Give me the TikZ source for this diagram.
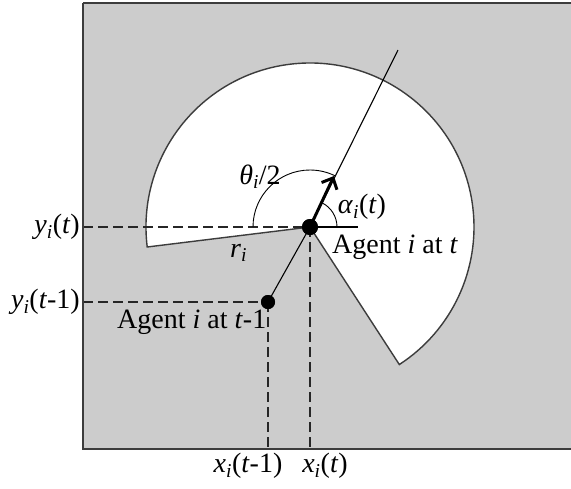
\documentclass[tikz,border=0pt]{standalone}
\usepackage{fontspec}
\setmainfont{Liberation Serif}
\usetikzlibrary{arrows.meta}
\definecolor{bggray}{RGB}{204,204,204}
\definecolor{edgegray}{RGB}{60,60,60}
\begin{document}
\begin{tikzpicture}[x=1pt,y=-1pt,
  lbl/.style={font=\fontsize{28}{31}\selectfont, inner sep=0pt},
  dsh/.style={draw=black!85, line width=1.4pt, dash pattern=on 10pt off 5pt},
  thin/.style={draw=black, line width=1.1pt},
  agentdot/.style={circle, fill=black, inner sep=0pt, minimum size=#1}]
\useasboundingbox (0,0) rectangle (571,488);
\fill[white] (0,0) rectangle (571,488);
% region
\fill[bggray] (83,3) rectangle (575,449);
% sensing sector
\filldraw[fill=white, draw=edgegray, line width=1.4pt]
  (310,227) -- ++(173:164) arc[start angle=173, end angle=417, radius=164] -- cycle;
% agents
\node[agentdot=16pt] (cur) at (310,227) {};
\node[agentdot=14pt] (prev) at (268,302) {};
\coordinate (top) at (398,50);
\coordinate (tip) at (334,176);
\coordinate (hend) at (358,227);
\coordinate (ycur) at (83,227);
\coordinate (yprev) at (83,302);
\coordinate (xcur) at (310,449);
\coordinate (xprev) at (268,449);
% dashed projections
\draw[dsh] (ycur) -- (cur.center);
\draw[dsh] (yprev) -- (prev.center);
\draw[dsh] (prev.center) -- (xprev);
\draw[dsh] (cur.center) -- (xcur);
% heading line and reference
\draw[thin] (prev.center) -- (cur.center) -- (top);
\draw[thin] (cur.center) -- (hend);
% angle arcs
\draw[draw=black, line width=0.9pt] (253,227) arc[start angle=180, end angle=296.4, radius=57];
\draw[draw=black, line width=0.9pt] (337,227) arc[start angle=0, end angle=-63.6, radius=27];
% heading arrow
\draw[line width=3pt, -{Straight Barb[length=9pt,width=17pt]}] (cur.center) -- (tip);
% dots on top
\node[agentdot=16pt] at (cur) {};
\node[agentdot=14pt] at (prev) {};
% border
\draw[edgegray, line width=2.5pt] (83,3) -- (575,3);
\draw[edgegray, line width=2.5pt] (83,3) -- (83,449) -- (575,449);
% labels
\node[lbl, anchor=east] (ly1) at (80,227) {\textit{y}\textsubscript{\textit{i}}(\textit{t})};
\node[lbl, anchor=east] (ly0) at (80,302) {\textit{y}\textsubscript{\textit{i}}(\textit{t}-1)};
\node[lbl] (lx0) at (248,466) {\textit{x}\textsubscript{\textit{i}}(\textit{t}-1)};
\node[lbl] (lx1) at (325,466) {\textit{x}\textsubscript{\textit{i}}(\textit{t})};
\node[lbl, anchor=base west] (la1) at (332,253) {Agent \textit{i} at \textit{t}};
\node[lbl, anchor=base west] (la0) at (117,328) {Agent \textit{i} at \textit{t}-1};
\node[lbl] (lth) at (260,177) {\textit{θ}\textsubscript{\textit{i}}/2};
\node[lbl] (lal) at (362,207) {\textit{α}\textsubscript{\textit{i}}(\textit{t})};
\node[lbl, anchor=base west] (lr) at (230,257) {\textit{r}\textsubscript{\textit{i}}};
\end{tikzpicture}
\end{document}
